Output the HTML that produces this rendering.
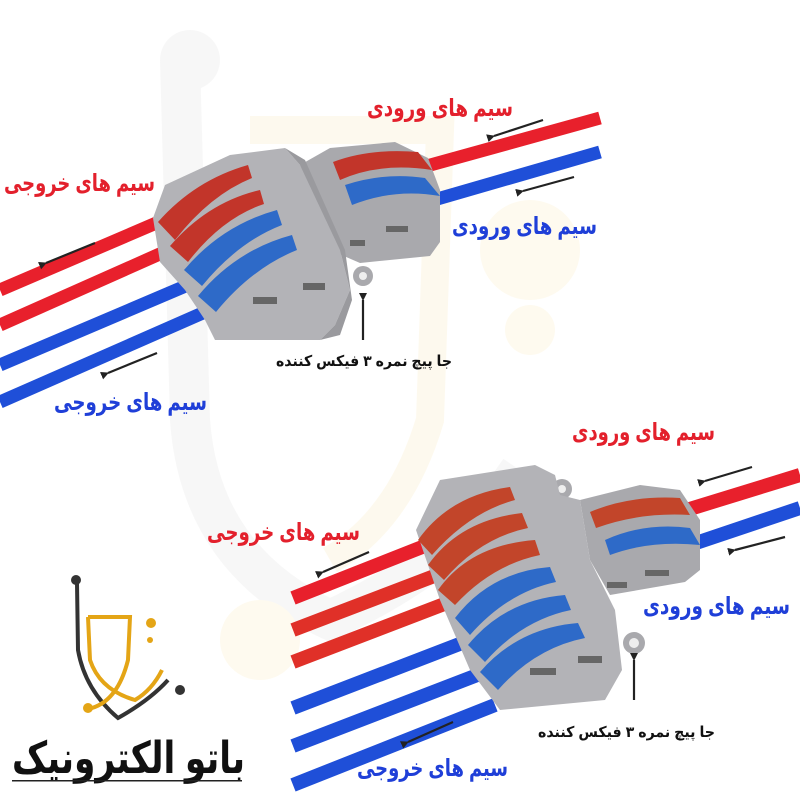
<!DOCTYPE html>
<html><head><meta charset="utf-8"><style>
html,body{margin:0;padding:0;background:#fff;}
svg{display:block}
text{font-family:"Liberation Sans","DejaVu Sans",sans-serif;font-weight:bold;}
</style></head><body>
<svg width="800" height="800" viewBox="0 0 800 800" xmlns="http://www.w3.org/2000/svg">
<defs>
<marker id="ah" markerWidth="8" markerHeight="8" refX="1" refY="4" orient="auto" markerUnits="userSpaceOnUse"><path d="M8,0 L0,4 L8,8 Z" fill="#222"/></marker>
</defs>
<rect width="800" height="800" fill="#fff"/>
<!-- watermark -->
<g opacity="0.3">
<path d="M180 60 L190 420 Q200 560 330 620 Q460 560 520 470" fill="none" stroke="#e6e6e6" stroke-width="40"/>
<circle cx="190" cy="60" r="30" fill="#e8e8e8"/>
<path d="M250 130 L440 130 L430 420 Q400 520 330 560" fill="none" stroke="#fbeec8" stroke-width="28"/>
<circle cx="530" cy="250" r="50" fill="#fdf0cc"/>
<circle cx="530" cy="330" r="25" fill="#fdf0cc"/>
<circle cx="260" cy="640" r="40" fill="#fdf0cc"/>
</g>
<!-- TOP wires -->
<g stroke-width="13" fill="none">
<line x1="0" y1="290" x2="175" y2="215" stroke="#e8202c"/>
<line x1="0" y1="325" x2="180" y2="245" stroke="#e8202c"/>
<line x1="0" y1="365" x2="195" y2="282" stroke="#1f4fd8"/>
<line x1="0" y1="402" x2="205" y2="312" stroke="#1f4fd8"/>
<line x1="405" y1="172" x2="600" y2="118" stroke="#e8202c"/>
<line x1="420" y1="204" x2="600" y2="152" stroke="#1f4fd8"/>
</g>
<!-- top connector -->
<g>
<path d="M300 165 L330 148 L395 142 L428 158 L440 190 L440 242 L430 256 L360 263 L330 250 Z" fill="#a9a9ad"/>
<path d="M153 218 L165 185 L230 155 L285 148 L300 165 L340 250 L350 290 L335 325 L320 340 L215 340 L205 320 L185 290 L160 262 Z" fill="#b3b3b7"/>
<path d="M285 148 L300 165 L340 250 L350 290 L335 325 L320 340 L340 335 L352 300 L345 250 L305 160 Z" fill="#9a9a9e"/>
<g fill="#c2352a">
<path d="M158 222 Q195 180 248 165 L252 178 Q210 195 175 240 Z"/>
<path d="M170 246 Q208 202 260 190 L264 204 Q222 218 188 262 Z"/>
<path d="M333 162 Q370 148 418 152 L432 170 Q380 162 340 180 Z"/>
</g>
<g fill="#2e6ac8">
<path d="M184 270 Q222 225 277 210 L282 225 Q238 242 202 286 Z"/>
<path d="M198 296 Q236 250 292 235 L297 250 Q252 268 216 312 Z"/>
<path d="M345 185 Q385 172 425 178 L440 196 Q395 188 352 205 Z"/>
</g>
<rect x="253" y="297" width="24" height="7" fill="#666"/>
<rect x="303" y="283" width="22" height="7" fill="#666"/>
<rect x="350" y="240" width="15" height="6" fill="#666"/>
<rect x="386" y="226" width="22" height="6" fill="#666"/>
<circle cx="363" cy="276" r="10" fill="#a9a9ad"/><circle cx="363" cy="276" r="4" fill="#eee"/>
</g>
<!-- BOTTOM wires -->
<g stroke-width="14" fill="none">
<line x1="293" y1="598" x2="440" y2="540" stroke="#e8202c"/>
<line x1="293" y1="630" x2="450" y2="570" stroke="#e03028"/>
<line x1="293" y1="662" x2="460" y2="598" stroke="#e03028"/>
<line x1="293" y1="708" x2="470" y2="640" stroke="#1f4fd8"/>
<line x1="293" y1="746" x2="480" y2="674" stroke="#1f4fd8"/>
<line x1="293" y1="785" x2="495" y2="705" stroke="#1f4fd8"/>
<line x1="680" y1="512" x2="800" y2="475" stroke="#e8202c"/>
<line x1="690" y1="545" x2="800" y2="508" stroke="#1f4fd8"/>
</g>
<g>
<path d="M580 500 L640 485 L680 490 L700 520 L700 570 L685 582 L610 595 L590 560 Z" fill="#a9a9ad"/>
<circle cx="562" cy="489" r="10" fill="#a9a9ad"/><circle cx="562" cy="489" r="4" fill="#eee"/>
<path d="M416 530 L440 480 L535 465 L555 475 L560 495 L580 500 L590 560 L615 610 L622 670 L605 700 L500 710 L470 670 L440 600 Z" fill="#b3b3b7"/>
<g fill="#c2452a">
<path d="M418 540 Q450 495 510 487 L515 500 Q470 512 432 555 Z"/>
<path d="M428 565 Q460 520 522 513 L528 528 Q480 538 444 580 Z"/>
<path d="M438 590 Q470 545 535 540 L540 555 Q492 565 455 605 Z"/>
<path d="M590 512 Q630 495 680 498 L690 515 Q640 512 596 528 Z"/>
</g>
<g fill="#2e6ac8">
<path d="M455 618 Q490 572 550 567 L556 582 Q508 592 470 635 Z"/>
<path d="M468 645 Q505 600 565 595 L571 610 Q522 620 485 662 Z"/>
<path d="M480 672 Q518 628 578 623 L585 638 Q535 648 498 690 Z"/>
<path d="M605 540 Q645 522 690 528 L700 545 Q650 540 610 555 Z"/>
</g>
<rect x="530" y="668" width="26" height="7" fill="#666"/>
<rect x="578" y="656" width="24" height="7" fill="#666"/>
<rect x="607" y="582" width="20" height="6" fill="#666"/>
<rect x="645" y="570" width="24" height="6" fill="#666"/>
<circle cx="634" cy="643" r="11" fill="#a9a9ad"/><circle cx="634" cy="643" r="5" fill="#eee"/>
</g>
<!-- arrows -->
<g stroke="#222" stroke-width="2.2" marker-end="url(#ah)">
<line x1="543" y1="120" x2="494" y2="136"/>
<line x1="574" y1="177" x2="523" y2="191"/>
<line x1="95" y1="243" x2="46" y2="263"/>
<line x1="157" y1="353" x2="108" y2="373"/>
<line x1="363" y1="340" x2="363" y2="300"/>
<line x1="752" y1="467" x2="705" y2="481"/>
<line x1="785" y1="537" x2="735" y2="550"/>
<line x1="369" y1="552" x2="323" y2="572"/>
<line x1="453" y1="722" x2="408" y2="742"/>
<line x1="634" y1="700" x2="634" y2="660"/>
</g>
<!-- labels -->
<g font-size="24" direction="rtl">
<text x="513" y="116" fill="#e3202c" textLength="146" lengthAdjust="spacingAndGlyphs">سیم های ورودی</text>
<text x="155" y="191" fill="#e3202c" textLength="151" lengthAdjust="spacingAndGlyphs">سیم های خروجی</text>
<text x="597" y="234" fill="#1f3fd8" textLength="145" lengthAdjust="spacingAndGlyphs">سیم های ورودی</text>
<text x="207" y="410" fill="#1f3fd8" textLength="153" lengthAdjust="spacingAndGlyphs">سیم های خروجی</text>
<text x="715" y="440" fill="#e3202c" textLength="143" lengthAdjust="spacingAndGlyphs">سیم های ورودی</text>
<text x="360" y="540" fill="#e3202c" textLength="153" lengthAdjust="spacingAndGlyphs">سیم های خروجی</text>
<text x="790" y="614" fill="#1f3fd8" textLength="147" lengthAdjust="spacingAndGlyphs">سیم های ورودی</text>
<text x="508" y="776" fill="#1f3fd8" textLength="151" lengthAdjust="spacingAndGlyphs">سیم های خروجی</text>
</g>
<g font-size="15" direction="rtl" fill="#111">
<text x="452" y="366" textLength="176" lengthAdjust="spacingAndGlyphs">جا پیچ نمره ۳ فیکس کننده</text>
<text x="715" y="737" textLength="177" lengthAdjust="spacingAndGlyphs">جا پیچ نمره ۳ فیکس کننده</text>
</g>
<!-- logo -->
<g>
<circle cx="76" cy="580" r="5" fill="#333"/>
<path d="M77 583 L78 650 Q85 690 118 718 Q150 700 168 680" fill="none" stroke="#333" stroke-width="4"/>
<circle cx="180" cy="690" r="5" fill="#333"/>
<path d="M88 617 L130 617 L128 660 Q118 700 92 708" fill="none" stroke="#e4a516" stroke-width="4"/>
<path d="M88 617 L90 660 Q100 690 135 700 Q152 690 162 670" fill="none" stroke="#e4a516" stroke-width="4"/>
<circle cx="88" cy="708" r="5" fill="#e4a516"/>
<circle cx="151" cy="623" r="5" fill="#e4a516"/>
<circle cx="150" cy="640" r="3" fill="#e4a516"/>
<text x="245" y="773" font-size="44" direction="rtl" fill="#111" textLength="233" lengthAdjust="spacingAndGlyphs">باتو الکترونیک</text>
<rect x="12" y="780" width="230" height="1.5" fill="#222"/>
</g>
</svg>
</body></html>
